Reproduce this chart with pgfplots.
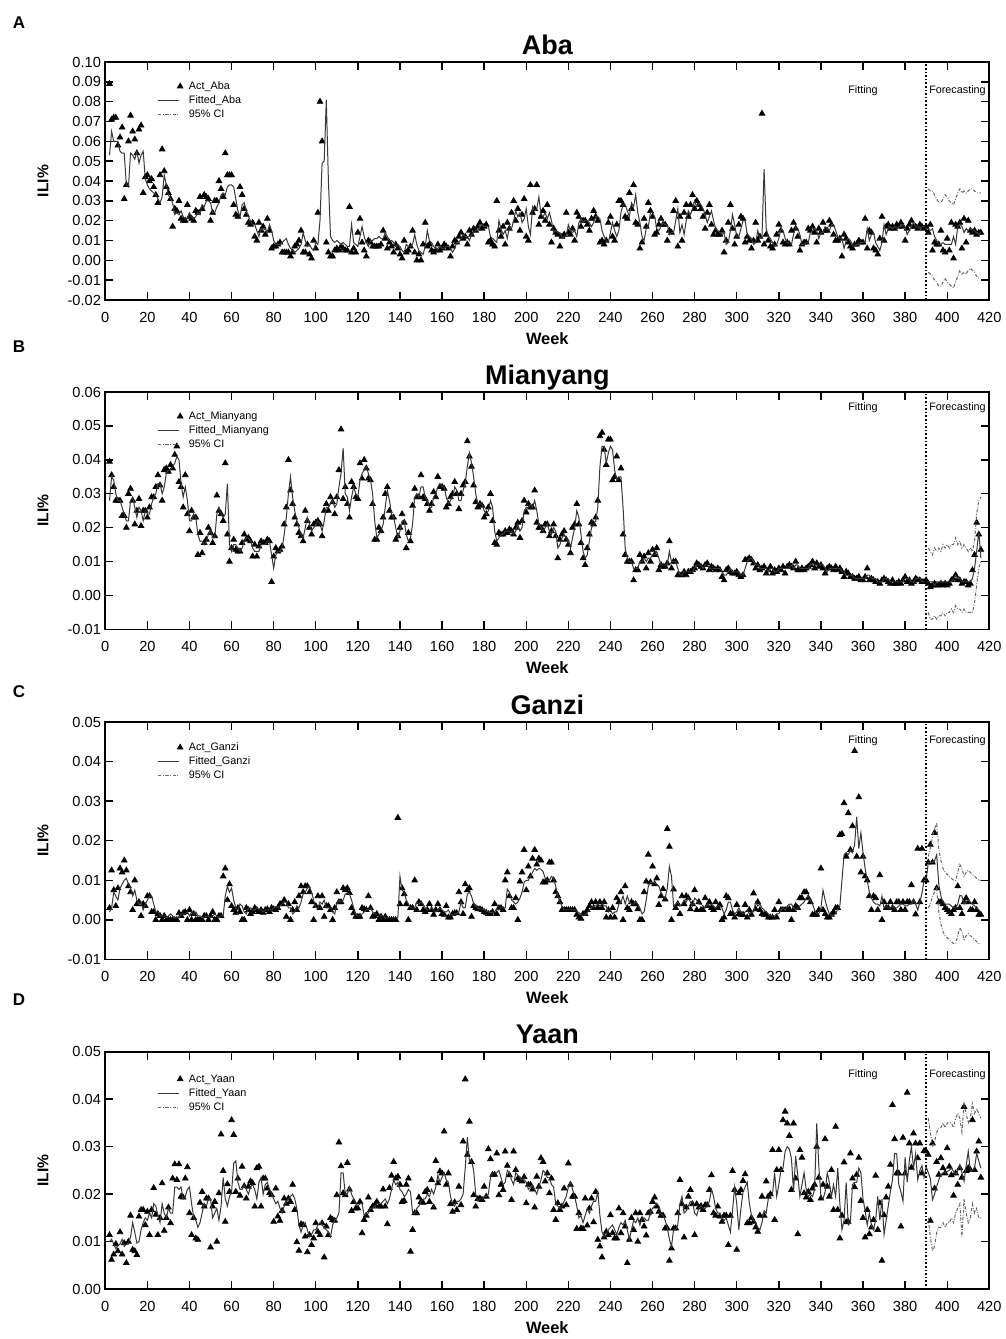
\documentclass[border=0pt]{standalone}
\usepackage{pgfplots}
\usepackage{pgfplotstable}
\pgfplotsset{compat=1.18}
\usepackage{fontspec}
\setmainfont{Liberation Sans}

\pgfplotstableread[row sep=\\, header=false]{
nan nan\\0.089 0.053\\0.071 0.065\\0.072 0.060\\0.072 0.060\\0.058 0.060\\0.062 0.055\\0.067 0.054\\0.031 0.054\\0.038 0.038\\
0.060 0.037\\0.073 0.054\\0.065 0.053\\0.061 0.051\\0.054 0.055\\0.066 0.049\\0.068 0.053\\0.034 0.055\\0.042 0.041\\0.043 0.038\\
0.040 0.036\\0.041 0.035\\0.037 0.034\\0.033 0.033\\0.029 0.031\\0.043 0.029\\0.056 0.032\\0.045 0.043\\0.037 0.038\\0.034 0.033\\
0.031 0.031\\0.017 0.029\\0.026 0.023\\0.025 0.024\\0.030 0.023\\0.021 0.025\\0.020 0.022\\0.020 0.021\\0.028 0.021\\0.022 0.024\\
0.021 0.022\\0.020 0.021\\0.025 0.022\\0.024 0.024\\0.032 0.023\\0.026 0.028\\0.033 0.027\\0.032 0.030\\0.031 0.030\\0.020 0.029\\
0.024 0.024\\0.030 0.024\\0.030 0.027\\0.040 0.029\\0.036 0.033\\0.032 0.034\\0.054 0.033\\0.043 0.037\\0.043 0.038\\0.043 0.038\\
0.028 0.037\\0.023 0.031\\0.022 0.025\\0.037 0.022\\0.033 0.028\\0.026 0.029\\0.023 0.025\\0.019 0.022\\0.018 0.020\\0.019 0.018\\
0.012 0.018\\0.010 0.015\\0.019 0.012\\0.015 0.016\\0.017 0.015\\0.013 0.016\\0.021 0.014\\0.015 0.018\\0.006 0.015\\0.007 0.010\\
0.007 0.008\\0.008 0.008\\0.009 0.008\\0.004 0.009\\0.004 0.010\\0.004 0.011\\0.004 0.008\\0.002 0.006\\0.004 0.005\\0.007 0.004\\
0.008 0.005\\0.010 0.006\\0.015 0.008\\0.004 0.014\\0.004 0.010\\0.008 0.007\\0.003 0.008\\0.001 0.006\\0.010 0.005\\0.006 0.009\\
0.024 0.008\\0.080 0.020\\0.060 0.049\\nan 0.050\\0.009 0.081\\0.004 0.040\\0.002 0.012\\0.002 0.010\\0.005 0.009\\0.006 0.010\\
0.005 0.009\\0.007 0.008\\0.006 0.009\\0.005 0.008\\0.005 0.007\\0.027 0.007\\0.004 0.018\\0.006 0.009\\0.004 0.008\\0.014 0.007\\
0.021 0.012\\0.009 0.017\\0.005 0.012\\0.002 0.009\\0.010 0.007\\0.009 0.010\\0.007 0.010\\0.007 0.011\\0.007 0.011\\0.007 0.012\\
0.008 0.011\\0.015 0.011\\0.011 0.014\\0.006 0.012\\0.009 0.010\\0.007 0.010\\0.004 0.009\\0.008 0.007\\0.006 0.008\\0.003 0.007\\
0.001 0.005\\0.010 0.004\\0.004 0.008\\0.005 0.007\\0.007 0.007\\0.015 0.008\\0.004 0.013\\0.000 0.008\\0.003 0.005\\0.000 0.004\\
0.008 0.003\\0.019 0.007\\0.007 0.015\\0.008 0.010\\0.005 0.009\\0.004 0.007\\0.005 0.006\\0.008 0.006\\0.005 0.007\\0.006 0.006\\
0.008 0.006\\0.007 0.007\\0.006 0.007\\0.002 0.006\\0.007 0.004\\0.010 0.006\\0.009 0.009\\0.012 0.009\\0.014 0.011\\0.011 0.013\\
0.012 0.012\\0.008 0.012\\0.015 0.010\\0.013 0.013\\0.016 0.014\\0.015 0.015\\0.017 0.015\\0.019 0.017\\0.016 0.018\\0.017 0.017\\
0.018 0.017\\0.009 0.017\\0.010 0.012\\0.008 0.011\\0.007 0.010\\0.030 0.009\\0.015 0.020\\0.012 0.016\\0.017 0.013\\0.008 0.015\\
0.019 0.011\\0.016 0.017\\0.024 0.016\\0.030 0.020\\0.020 0.025\\0.026 0.022\\0.015 0.024\\0.023 0.019\\0.031 0.021\\0.012 0.026\\
0.010 0.017\\0.038 0.013\\0.024 0.027\\0.026 0.025\\0.038 0.026\\0.018 0.032\\0.022 0.023\\0.025 0.022\\0.020 0.024\\0.028 0.021\\
0.018 0.024\\0.009 0.020\\0.016 0.014\\0.014 0.015\\0.013 0.014\\0.007 0.014\\0.012 0.011\\0.013 0.012\\0.024 0.012\\0.014 0.018\\
0.013 0.015\\0.016 0.014\\0.010 0.015\\0.024 0.012\\0.022 0.019\\0.017 0.021\\0.020 0.019\\0.020 0.020\\0.018 0.020\\0.015 0.019\\
0.021 0.017\\0.025 0.019\\0.022 0.022\\0.020 0.022\\0.009 0.021\\0.010 0.015\\0.008 0.012\\0.010 0.010\\0.019 0.009\\0.022 0.014\\
0.012 0.019\\0.010 0.015\\0.018 0.012\\0.030 0.015\\0.030 0.024\\0.028 0.028\\0.022 0.028\\0.021 0.025\\0.034 0.022\\0.026 0.029\\
0.038 0.027\\0.019 0.033\\0.018 0.024\\0.006 0.019\\0.009 0.012\\0.021 0.010\\0.017 0.016\\0.029 0.017\\0.025 0.024\\0.022 0.024\\
0.013 0.022\\0.014 0.016\\0.018 0.015\\0.021 0.017\\0.018 0.019\\0.018 0.018\\0.010 0.018\\0.015 0.013\\0.014 0.014\\0.025 0.014\\
0.030 0.020\\0.007 0.026\\0.022 0.014\\0.010 0.018\\0.024 0.013\\0.028 0.020\\0.022 0.025\\0.028 0.023\\0.033 0.026\\0.026 0.030\\
0.030 0.027\\0.028 0.029\\0.026 0.028\\0.022 0.026\\0.016 0.023\\0.024 0.019\\0.028 0.022\\0.018 0.025\\0.013 0.020\\0.015 0.016\\
0.013 0.015\\0.013 0.014\\0.015 0.013\\0.004 0.014\\0.010 0.008\\0.019 0.009\\0.028 0.015\\0.016 0.023\\0.008 0.018\\0.012 0.012\\
0.018 0.012\\0.022 0.016\\0.021 0.020\\0.009 0.020\\0.012 0.013\\0.010 0.012\\0.006 0.011\\0.010 0.008\\0.019 0.009\\0.010 0.015\\
0.012 0.011\\0.074 0.012\\0.008 0.046\\0.013 0.016\\0.010 0.012\\0.007 0.011\\0.006 0.009\\0.008 0.007\\0.013 0.008\\0.018 0.011\\
0.015 0.016\\0.009 0.015\\0.008 0.011\\0.009 0.009\\0.008 0.009\\0.015 0.008\\0.019 0.013\\0.016 0.017\\0.012 0.016\\0.005 0.013\\
0.008 0.008\\0.009 0.008\\0.009 0.009\\0.016 0.009\\0.015 0.014\\0.017 0.015\\0.014 0.016\\0.009 0.015\\0.016 0.011\\0.014 0.014\\
0.019 0.014\\0.015 0.017\\0.015 0.016\\0.020 0.015\\0.018 0.018\\0.013 0.018\\0.010 0.015\\0.010 0.012\\0.011 0.011\\0.002 0.011\\
0.013 0.006\\0.011 0.010\\0.009 0.011\\0.007 0.010\\0.006 0.008\\0.008 0.007\\0.008 0.008\\0.010 0.008\\0.009 0.009\\0.009 0.009\\
0.021 0.009\\0.006 0.016\\0.015 0.010\\0.014 0.013\\0.006 0.014\\0.005 0.009\\0.003 0.007\\0.011 0.005\\0.022 0.009\\0.010 0.018\\
0.017 0.013\\0.018 0.016\\0.016 0.017\\0.017 0.016\\0.016 0.017\\0.018 0.016\\0.017 0.017\\0.019 0.017\\0.017 0.018\\0.010 0.017\\
0.016 0.013\\0.018 0.015\\0.020 0.017\\0.017 0.019\\0.017 0.017\\0.016 0.017\\0.018 0.016\\0.017 0.017\\0.016 0.017\\0.017 0.016\\
0.014 0.016\\0.018 0.015\\0.005 0.016\\0.009 0.012\\0.008 0.010\\0.008 0.008\\0.015 0.008\\0.005 0.009\\0.004 0.008\\0.011 0.008\\
0.005 0.008\\0.019 0.008\\0.001 0.012\\0.018 0.008\\0.017 0.017\\0.019 0.018\\0.006 0.017\\0.021 0.014\\0.009 0.016\\0.020 0.015\\
0.015 0.016\\0.014 0.015\\0.015 0.015\\0.013 0.014\\0.014 0.013\\0.014 0.014\\
}\dataA

\pgfplotstableread[row sep=\\, header=false]{
nan nan\\0.0395 0.028\\0.0355 0.035\\0.032 0.034\\0.028 0.030\\0.028 0.028\\0.028 0.028\\0.0235 0.026\\0.0235 0.024\\0.020 0.022\\
0.030 0.022\\0.0315 0.028\\0.028 0.029\\0.021 0.026\\0.025 0.023\\0.0285 0.026\\0.0205 0.025\\0.025 0.022\\0.025 0.025\\0.023 0.024\\
0.026 0.024\\0.029 0.027\\0.029 0.029\\0.032 0.030\\0.0355 0.033\\0.0325 0.033\\0.028 0.030\\0.037 0.032\\0.0375 0.036\\0.0365 0.037\\
0.0385 0.037\\0.0375 0.038\\0.0415 0.039\\0.044 0.041\\0.0335 0.040\\0.032 0.033\\0.026 0.029\\0.0355 0.032\\0.024 0.028\\0.019 0.022\\
0.025 0.022\\0.023 0.024\\0.023 0.023\\0.012 0.018\\0.0185 0.016\\0.0125 0.016\\0.0155 0.015\\0.0165 0.016\\0.020 0.018\\0.0185 0.019\\
0.0155 0.017\\0.0175 0.017\\0.0295 0.024\\0.025 0.026\\0.024 0.024\\0.022 0.023\\0.039 0.024\\0.018 0.033\\0.010 0.015\\0.014 0.013\\
0.0165 0.015\\0.0135 0.015\\0.013 0.014\\0.013 0.013\\0.0155 0.014\\0.018 0.016\\0.0165 0.017\\0.017 0.017\\0.016 0.016\\0.0115 0.014\\
0.015 0.013\\0.0115 0.013\\0.0145 0.013\\0.016 0.015\\0.0155 0.015\\0.0155 0.015\\0.0165 0.016\\0.016 0.016\\0.004 0.012\\0.0115 0.008\\
0.014 0.012\\0.013 0.013\\0.0135 0.013\\0.0145 0.014\\0.021 0.018\\0.026 0.023\\0.040 0.030\\0.031 0.035\\0.027 0.029\\0.023 0.025\\
0.021 0.022\\0.0185 0.020\\0.0175 0.018\\0.016 0.017\\0.025 0.020\\0.022 0.023\\0.020 0.021\\0.018 0.019\\0.021 0.020\\0.0215 0.021\\
0.022 0.022\\0.021 0.021\\0.0175 0.019\\0.025 0.022\\0.027 0.026\\0.025 0.026\\0.029 0.027\\0.0275 0.028\\0.024 0.026\\0.029 0.027\\
0.037 0.032\\0.049 0.036\\0.0285 0.0435\\0.032 0.030\\0.027 0.029\\0.023 0.025\\0.0335 0.029\\0.032 0.032\\0.029 0.030\\0.0285 0.029\\
0.039 0.034\\0.0345 0.036\\0.040 0.037\\0.0375 0.038\\0.0345 0.036\\0.034 0.034\\0.027 0.030\\0.0165 0.022\\0.0165 0.017\\0.020 0.018\\
0.019 0.019\\0.023 0.021\\0.030 0.026\\0.032 0.031\\0.025 0.028\\0.023 0.024\\0.023 0.023\\0.0165 0.020\\0.0175 0.017\\0.020 0.019\\
0.024 0.022\\0.0215 0.022\\0.014 0.018\\0.0185 0.016\\0.016 0.017\\0.0265 0.021\\0.0315 0.029\\0.029 0.030\\0.029 0.029\\0.0355 0.032\\
0.029 0.032\\0.0285 0.029\\0.027 0.028\\0.025 0.026\\0.027 0.026\\0.0305 0.029\\0.029 0.030\\0.035 0.032\\0.032 0.033\\0.032 0.032\\
0.0315 0.032\\0.026 0.029\\0.027 0.027\\0.029 0.028\\0.030 0.029\\0.0335 0.032\\0.030 0.031\\0.0255 0.028\\0.030 0.028\\0.0325 0.031\\
0.0335 0.033\\0.0455 0.038\\0.041 0.042\\0.038 0.039\\0.0325 0.035\\0.0275 0.030\\0.026 0.027\\0.027 0.027\\0.0265 0.027\\0.023 0.025\\
0.024 0.024\\0.026 0.025\\0.030 0.028\\0.022 0.026\\0.0155 0.019\\0.015 0.016\\0.0185 0.017\\0.018 0.018\\0.018 0.018\\0.019 0.019\\
0.0185 0.019\\0.0195 0.019\\0.019 0.019\\0.018 0.018\\0.020 0.019\\0.0215 0.021\\0.017 0.019\\0.022 0.020\\0.028 0.025\\0.0245 0.026\\
0.027 0.026\\0.026 0.027\\0.026 0.026\\0.031 0.028\\0.0215 0.025\\0.020 0.021\\0.020 0.020\\0.019 0.019\\0.021 0.020\\0.021 0.021\\
0.0175 0.019\\0.019 0.018\\0.021 0.020\\0.0175 0.019\\0.011 0.014\\0.0165 0.015\\0.018 0.017\\0.019 0.018\\0.0165 0.017\\0.015 0.016\\
0.0125 0.014\\0.020 0.017\\0.021 0.020\\0.027 0.025\\0.021 0.023\\0.0155 0.018\\0.011 0.013\\0.009 0.011\\0.014 0.012\\0.018 0.016\\
0.0215 0.020\\0.021 0.021\\0.023 0.022\\0.028 0.026\\0.047 0.038\\0.048 0.044\\0.043 0.044\\0.0385 0.039\\0.046 0.042\\0.046 0.044\\
0.034 0.043\\0.035 0.037\\0.041 0.034\\0.034 0.035\\0.0375 0.035\\0.018 0.026\\0.012 0.014\\0.010 0.011\\0.010 0.010\\0.010 0.010\\
0.0045 0.008\\0.0075 0.008\\0.0075 0.008\\0.012 0.010\\0.010 0.010\\0.0115 0.011\\0.008 0.010\\0.0125 0.011\\0.010 0.011\\0.0135 0.012\\
0.012 0.012\\0.014 0.013\\0.0075 0.011\\0.009 0.009\\0.0085 0.009\\0.0085 0.009\\0.0095 0.009\\0.016 0.013\\0.008 0.010\\0.010 0.010\\
0.010 0.010\\0.006 0.008\\0.006 0.006\\0.006 0.006\\0.007 0.007\\0.006 0.007\\0.007 0.007\\0.007 0.007\\0.0075 0.007\\0.008 0.008\\
0.0095 0.009\\0.009 0.009\\0.0085 0.009\\0.008 0.008\\0.009 0.009\\0.0095 0.009\\0.0075 0.008\\0.0085 0.008\\0.008 0.008\\0.0075 0.008\\
0.008 0.008\\0.0075 0.008\\0.0055 0.007\\0.0045 0.006\\0.0075 0.006\\0.008 0.007\\0.007 0.008\\0.0065 0.007\\0.0065 0.007\\0.007 0.007\\
0.006 0.007\\0.0055 0.006\\0.006 0.006\\0.0105 0.008\\0.0105 0.010\\0.011 0.011\\0.0105 0.011\\0.0095 0.010\\0.008 0.009\\0.009 0.009\\
0.0075 0.008\\0.008 0.008\\0.0085 0.008\\0.0065 0.008\\0.0075 0.007\\0.0085 0.008\\0.0065 0.008\\0.0075 0.007\\0.007 0.007\\0.008 0.008\\
0.0075 0.008\\0.0085 0.008\\0.0065 0.008\\0.0085 0.008\\0.009 0.008\\0.0085 0.009\\0.008 0.008\\0.010 0.009\\0.0075 0.009\\0.0075 0.008\\
0.008 0.008\\0.0075 0.008\\0.008 0.008\\0.0085 0.008\\0.009 0.009\\0.010 0.009\\0.008 0.009\\0.0095 0.009\\0.0085 0.009\\0.009 0.009\\
0.008 0.009\\0.0065 0.008\\0.008 0.007\\0.0085 0.008\\0.008 0.008\\0.0075 0.008\\0.0085 0.008\\0.0075 0.008\\0.008 0.008\\0.007 0.007\\
0.0055 0.007\\0.007 0.006\\0.0065 0.006\\0.0055 0.006\\0.0055 0.006\\0.005 0.005\\0.005 0.005\\0.0055 0.005\\0.0045 0.005\\0.0045 0.005\\
0.0055 0.005\\0.008 0.006\\0.0045 0.006\\0.005 0.005\\0.0045 0.005\\0.004 0.005\\0.004 0.004\\0.0035 0.004\\0.0045 0.004\\0.005 0.005\\
0.0045 0.005\\0.004 0.005\\0.0035 0.004\\0.0045 0.004\\0.0035 0.004\\0.0035 0.004\\0.004 0.004\\0.0035 0.004\\0.0045 0.004\\0.0055 0.005\\
0.004 0.005\\0.0045 0.005\\0.0035 0.004\\0.004 0.004\\0.005 0.005\\0.0045 0.005\\0.0045 0.005\\0.004 0.004\\0.004 0.004\\0.0045 0.004\\
0.0035 0.004\\0.0025 0.004\\0.003 0.004\\0.0035 0.003\\0.003 0.004\\0.003 0.004\\0.0035 0.004\\0.003 0.004\\0.0035 0.004\\0.003 0.004\\
0.0035 0.004\\0.0045 0.004\\0.005 0.005\\0.006 0.006\\0.0045 0.005\\0.0045 0.005\\0.0035 0.004\\0.004 0.004\\0.004 0.004\\0.003 0.004\\
0.0035 0.004\\0.0075 0.005\\0.012 0.008\\0.0215 0.013\\0.018 0.019\\0.0135 0.011\\
}\dataB

\pgfplotstableread[row sep=\\, header=false]{
nan nan\\0.003 0.002\\0.0125 0.003\\0.0075 0.007\\0.0035 0.006\\0.008 0.005\\0.013 0.008\\0.012 0.009\\0.015 0.010\\0.0125 0.0105\\
0.0085 0.009\\0.007 0.008\\0.0025 0.006\\0.010 0.0075\\0.004 0.005\\0.0045 0.004\\0.001 0.0045\\0.004 0.0025\\0.0035 0.004\\0.006 0.005\\
0.006 0.006\\0.002 0.006\\0.002 0.004\\0.000 0.002\\0.0015 0.002\\0.001 0.001\\0.000 0.001\\0.001 0.001\\0.000 0.0005\\0.000 0.001\\
0.000 0.0015\\0.000 0.001\\0.000 0.0005\\0.000 0.0005\\0.0017 0.0005\\0.001 0.0015\\0.0017 0.0015\\0.002 0.0015\\0.000 0.002\\0.0025 0.001\\
0.000 0.002\\0.0015 0.0015\\0.000 0.002\\0.000 0.001\\0.000 0.001\\0.000 0.0005\\0.001 0.0005\\0.001 0.001\\0.000 0.001\\0.001 0.0005\\
0.002 0.001\\0.000 0.0015\\0.000 0.001\\0.001 0.0005\\0.001 0.001\\0.011 0.001\\0.013 0.006\\0.005 0.0085\\0.009 0.007\\0.0035 0.008\\
0.0025 0.005\\0.0018 0.003\\0.003 0.0025\\0.002 0.004\\0.000 0.0035\\0.000 0.002\\0.003 0.0015\\0.0025 0.003\\0.0015 0.003\\0.002 0.0025\\
0.003 0.0025\\0.0025 0.003\\0.002 0.0025\\0.0025 0.0025\\0.0018 0.002\\0.0025 0.0025\\0.0027 0.0025\\0.002 0.0025\\0.003 0.0025\\0.0027 0.003\\
0.0025 0.003\\0.003 0.003\\0.004 0.0035\\0.004 0.004\\0.005 0.0045\\0.0008 0.0045\\0.004 0.003\\0.000 0.003\\0.0025 0.0015\\0.0045 0.002\\
0.0025 0.0035\\0.006 0.003\\0.0085 0.0045\\0.007 0.0065\\0.0085 0.007\\0.0085 0.008\\0.007 0.0085\\0.0045 0.007\\0.000 0.005\\0.0035 0.003\\
0.006 0.003\\0.003 0.0045\\0.006 0.004\\0.0008 0.005\\0.0035 0.003\\0.0035 0.003\\0.0025 0.003\\0.000 0.002\\0.003 0.0015\\0.007 0.004\\
0.0045 0.005\\0.0045 0.0045\\0.008 0.005\\0.0075 0.0065\\0.008 0.0068\\0.0068 0.0065\\0.003 0.005\\0.0017 0.003\\0.0008 0.0015\\0.0008 0.001\\
0.0008 0.001\\0.003 0.0015\\0.0027 0.002\\0.0025 0.0025\\0.006 0.0025\\0.003 0.003\\0.0008 0.002\\0.001 0.0015\\0.0015 0.0015\\0.000 0.0015\\
0.0008 0.001\\0.000 0.001\\0.0008 0.0005\\0.000 0.0005\\0.000 0.0005\\0.000 0.0005\\0.000 0.0005\\0.000 0.0005\\0.0258 0.0005\\0.004 0.011\\
0.008 0.0075\\0.0065 0.007\\0.004 0.005\\0.000 0.004\\0.003 0.003\\0.003 0.003\\0.010 0.003\\0.0025 0.0045\\0.0045 0.004\\0.004 0.0045\\
0.0025 0.004\\0.002 0.003\\0.0025 0.0025\\0.004 0.0025\\0.0025 0.003\\0.0013 0.0025\\0.0025 0.002\\0.004 0.0025\\0.0025 0.003\\0.0015 0.0025\\
0.0013 0.002\\0.0035 0.002\\0.0006 0.0025\\0.0006 0.0015\\0.0015 0.001\\0.0017 0.0015\\0.0017 0.0015\\0.007 0.002\\0.0045 0.0045\\0.0015 0.003\\
0.009 0.003\\0.0075 0.0065\\0.008 0.007\\0.0008 0.006\\0.0035 0.004\\0.003 0.0035\\0.0027 0.003\\0.0027 0.0028\\0.0025 0.0027\\0.002 0.0025\\
0.0018 0.0022\\0.0015 0.002\\0.0015 0.0018\\0.002 0.0018\\0.004 0.002\\0.0015 0.0028\\0.003 0.0025\\0.003 0.003\\0.0025 0.003\\0.010 0.003\\
0.012 0.0078\\0.006 0.007\\0.003 0.005\\0.003 0.0045\\0.0055 0.004\\0.000 0.0045\\0.0097 0.0055\\0.012 0.007\\0.0177 0.0095\\0.0075 0.010\\
0.0135 0.010\\0.011 0.011\\0.0155 0.012\\0.0177 0.013\\0.014 0.0125\\0.0155 0.013\\0.015 0.0128\\0.0095 0.0122\\0.0095 0.0105\\0.010 0.010\\
0.0145 0.010\\0.0145 0.011\\0.010 0.0105\\0.007 0.0085\\0.006 0.006\\0.0045 0.0045\\0.0025 0.0035\\0.0025 0.0025\\0.0025 0.0025\\0.0025 0.0025\\
0.0025 0.0025\\0.0025 0.0025\\0.0025 0.0025\\0.0013 0.0022\\0.0006 0.0018\\0.0003 0.0015\\0.0015 0.001\\0.0015 0.0012\\0.0025 0.0018\\0.0035 0.0025\\
0.0045 0.003\\0.003 0.0035\\0.0045 0.0035\\0.003 0.004\\0.0045 0.0035\\0.003 0.004\\0.0045 0.0035\\0.0006 0.0035\\0.0025 0.002\\0.0006 0.0025\\
0.003 0.0015\\0.0006 0.002\\0.0055 0.002\\0.0045 0.004\\0.007 0.0045\\0.000 0.006\\0.0085 0.004\\0.003 0.006\\0.0025 0.0045\\0.0045 0.004\\
0.004 0.004\\0.004 0.0045\\0.0027 0.004\\0.000 0.003\\0.000 0.0015\\0.007 0.002\\0.0097 0.005\\0.0165 0.0085\\0.0095 0.0095\\0.0135 0.0095\\
0.009 0.0095\\0.0105 0.009\\0.0038 0.0085\\0.006 0.007\\0.0078 0.006\\0.0052 0.0055\\0.023 0.008\\0.0185 0.0135\\0.000 0.011\\0.0077 0.0035\\
0.003 0.004\\0.004 0.0045\\0.0015 0.0035\\0.006 0.004\\0.004 0.005\\0.006 0.0045\\0.0055 0.0055\\0.0027 0.0045\\0.004 0.0035\\0.0075 0.0055\\
0.0025 0.005\\0.0045 0.004\\0.0025 0.004\\0.0025 0.0035\\0.0055 0.003\\0.0035 0.004\\0.0045 0.0035\\0.003 0.004\\0.0025 0.0035\\0.0045 0.003\\
0.003 0.0035\\0.0038 0.0035\\0.000 0.003\\0.0006 0.0015\\0.006 0.0025\\0.0055 0.0045\\0.0015 0.0045\\0.0015 0.0025\\0.0006 0.0015\\0.0038 0.002\\
0.0015 0.003\\0.0013 0.002\\0.0013 0.0015\\0.0038 0.002\\0.0006 0.0025\\0.0025 0.0015\\0.0013 0.002\\0.0067 0.002\\0.0027 0.0045\\0.0045 0.0035\\
0.0025 0.004\\0.0015 0.003\\0.0013 0.0025\\0.0013 0.002\\0.0006 0.0015\\0.0006 0.001\\0.0006 0.001\\0.0025 0.001\\0.0006 0.0015\\0.0045 0.0015\\
0.0025 0.0025\\0.0025 0.003\\0.0025 0.0025\\0.0025 0.0035\\0.0027 0.004\\0.000 0.004\\0.0025 0.003\\0.0035 0.0025\\0.003 0.003\\0.0055 0.0035\\
0.0055 0.004\\0.007 0.0045\\0.007 0.0055\\0.0055 0.006\\0.0045 0.005\\0.0013 0.004\\0.0013 0.0025\\0.0013 0.0015\\0.0025 0.0015\\0.013 0.003\\
0.0025 0.0075\\0.0015 0.005\\0.0006 0.003\\0.0006 0.0015\\0.0013 0.001\\0.002 0.0012\\0.003 0.0015\\0.003 0.0028\\0.0215 0.0035\\0.0217 0.010\\
0.0295 0.0165\\0.016 0.017\\0.027 0.0165\\0.0177 0.0175\\0.0237 0.017\\0.0427 0.019\\0.016 0.026\\0.031 0.018\\0.012 0.022\\0.016 0.017\\
0.011 0.013\\0.010 0.010\\0.006 0.007\\0.0025 0.0055\\0.006 0.0045\\0.0055 0.004\\0.0025 0.004\\0.0113 0.0035\\0.000 0.006\\0.0045 0.003\\
0.003 0.0035\\0.003 0.003\\0.0045 0.003\\0.003 0.0035\\0.0025 0.003\\0.0045 0.003\\0.0045 0.0035\\0.0025 0.004\\0.0045 0.004\\0.0025 0.0035\\
0.0045 0.0035\\0.0045 0.004\\0.0088 0.004\\0.0045 0.005\\0.0014 0.004\\0.018 0.0025\\0.0045 0.0045\\0.018 0.0067\\0.010 0.010\\0.010 0.010\\
0.0145 0.0145\\0.019 0.0145\\0.0145 0.0145\\0.022 0.015\\0.008 0.0164\\0.0045 0.009\\0.0045 0.006\\0.004 0.0045\\0.003 0.004\\0.0025 0.004\\
0.002 0.004\\0.0015 0.0035\\0.0025 0.003\\0.003 0.003\\0.0085 0.004\\0.003 0.0062\\0.0015 0.006\\0.0045 0.004\\0.0055 0.0045\\0.0045 0.005\\
0.0025 0.0045\\0.0025 0.004\\0.0045 0.0035\\0.0025 0.003\\0.0013 0.0025\\0.0013 0.002\\
}\dataC

\pgfplotstableread[row sep=\\, header=false]{
nan nan\\0.0114 0.010\\0.0062 0.0105\\0.0073 0.0095\\0.0095 0.0085\\0.008 0.0092\\0.012 0.0095\\0.0073 0.0105\\0.0097 0.009\\0.0055 0.0095\\
0.010 0.0095\\0.0155 0.011\\0.0083 0.014\\0.008 0.012\\0.0072 0.0097\\0.0153 0.010\\0.0167 0.0125\\0.0167 0.014\\0.0135 0.015\\0.0163 0.0145\\
0.0114 0.016\\0.0167 0.015\\0.0213 0.018\\0.0157 0.0175\\0.0114 0.0155\\0.015 0.014\\0.0223 0.018\\0.0123 0.016\\0.015 0.015\\0.0172 0.017\\
0.0139 0.016\\0.0233 0.016\\0.0263 0.0215\\0.023 0.0215\\0.0263 0.021\\0.0195 0.0215\\0.0193 0.019\\0.0233 0.0195\\0.0257 0.021\\0.016 0.0215\\
0.0114 0.018\\0.015 0.015\\0.0107 0.0145\\0.0104 0.013\\0.0182 0.014\\0.0205 0.016\\0.0174 0.018\\0.0191 0.0175\\0.0191 0.019\\0.0088 0.019\\
0.0174 0.015\\0.0184 0.016\\0.010 0.017\\0.0202 0.0145\\0.0326 0.0175\\0.0249 0.0235\\0.0142 0.019\\0.0221 0.0175\\0.0205 0.0195\\0.0356 0.0205\\
0.0325 0.0265\\0.0205 0.027\\0.0233 0.0225\\0.0197 0.021\\0.0258 0.021\\0.0217 0.022\\0.0191 0.021\\0.0216 0.020\\0.0227 0.0215\\0.0223 0.022\\
0.0174 0.021\\0.0255 0.019\\0.0258 0.0225\\0.0174 0.0235\\0.0233 0.020\\0.0233 0.022\\0.0212 0.0225\\0.0202 0.021\\0.0198 0.020\\0.0142 0.019\\
0.0212 0.018\\0.0153 0.0185\\0.0144 0.017\\0.0165 0.016\\0.0191 0.0175\\0.018 0.0185\\0.0191 0.019\\0.0184 0.0195\\0.022 0.020\\0.0167 0.019\\
0.0099 0.017\\0.0081 0.0135\\0.0137 0.012\\0.0135 0.0135\\0.0111 0.014\\0.0078 0.0125\\0.0114 0.011\\0.0093 0.0115\\0.0107 0.0125\\0.0139 0.0125\\
0.0121 0.0135\\0.0114 0.014\\0.0139 0.0135\\0.0067 0.013\\0.0132 0.0125\\0.0114 0.012\\0.015 0.011\\0.0146 0.0135\\0.0144 0.0145\\0.0198 0.015\\
0.0309 0.016\\0.0259 0.0245\\0.0202 0.0245\\0.0198 0.020\\0.0266 0.020\\0.021 0.0215\\0.0165 0.020\\0.0184 0.019\\0.017 0.018\\0.017 0.0175\\
0.0184 0.018\\0.0118 0.018\\0.0146 0.0155\\0.0155 0.016\\0.0193 0.016\\0.0167 0.017\\0.0174 0.017\\0.0177 0.0175\\0.0184 0.018\\0.0174 0.018\\
0.0174 0.018\\0.021 0.0185\\0.0174 0.019\\0.0137 0.018\\0.0213 0.019\\0.0239 0.021\\0.0268 0.023\\0.0233 0.022\\0.0237 0.0225\\0.022 0.021\\
0.0184 0.0205\\0.0186 0.0195\\0.022 0.020\\0.0233 0.021\\0.0079 0.0205\\0.0125 0.016\\0.016 0.016\\0.016 0.017\\0.0193 0.0175\\0.0184 0.0185\\
0.0182 0.019\\0.0205 0.019\\0.0209 0.020\\0.0184 0.0195\\0.023 0.021\\0.0172 0.020\\0.027 0.0215\\0.0223 0.024\\0.0248 0.0225\\0.0244 0.0235\\
0.0332 0.0245\\0.022 0.023\\0.0244 0.0225\\0.0179 0.0195\\0.0163 0.018\\0.0183 0.0175\\0.0167 0.0185\\0.0216 0.0185\\0.0177 0.019\\0.0311 0.020\\
0.0442 0.0255\\0.0283 0.032\\0.0353 0.027\\0.0268 0.027\\0.0198 0.025\\0.0174 0.020\\0.019 0.0185\\0.0191 0.019\\0.0188 0.019\\0.0216 0.0195\\
0.0195 0.0195\\0.0295 0.020\\0.0274 0.0235\\0.0241 0.0245\\0.0241 0.0245\\0.0286 0.0245\\0.0198 0.025\\0.022 0.0235\\0.0209 0.022\\0.029 0.0225\\
0.026 0.025\\0.024 0.0245\\0.0188 0.023\\0.029 0.022\\0.0251 0.0245\\0.0233 0.024\\0.023 0.0235\\0.0227 0.023\\0.0236 0.023\\0.0181 0.0225\\
0.022 0.021\\0.022 0.0215\\0.021 0.022\\0.0172 0.021\\0.0237 0.020\\0.0216 0.0215\\0.0276 0.023\\0.0268 0.025\\0.0227 0.0245\\0.0244 0.0235\\
0.0202 0.0235\\0.0233 0.022\\0.0167 0.0215\\0.0146 0.018\\0.0181 0.0175\\0.0167 0.017\\0.0174 0.0175\\0.0212 0.0185\\0.0177 0.0195\\0.0265 0.0215\\
0.022 0.0225\\0.0195 0.021\\0.0195 0.0195\\0.0127 0.0175\\0.016 0.015\\0.0128 0.0155\\0.0127 0.014\\0.0191 0.0155\\0.0134 0.017\\0.017 0.016\\
0.0191 0.0175\\0.0141 0.0185\\0.0205 0.0185\\0.0104 0.0205\\0.009 0.0155\\0.0067 0.012\\0.0109 0.011\\0.0121 0.0115\\0.0114 0.0125\\0.0156 0.013\\
0.0118 0.0135\\0.0107 0.0125\\0.0107 0.0115\\0.017 0.013\\0.0118 0.014\\0.016 0.0135\\0.0132 0.0145\\0.0055 0.0125\\0.0104 0.0105\\0.015 0.0125\\
0.0125 0.0145\\0.016 0.014\\0.010 0.015\\0.016 0.0135\\0.0146 0.015\\0.0132 0.015\\0.0113 0.0145\\0.016 0.0145\\0.0163 0.016\\0.0184 0.017\\
0.0193 0.0175\\0.0174 0.018\\0.0163 0.0175\\0.0155 0.016\\0.0155 0.0155\\0.0128 0.0145\\0.0128 0.013\\0.006 0.0105\\0.0086 0.009\\0.0128 0.0125\\
0.0128 0.0125\\0.016 0.0135\\0.023 0.018\\0.0179 0.0195\\0.0109 0.016\\0.0172 0.0165\\0.0195 0.0175\\0.0209 0.0185\\0.0179 0.0185\\0.0114 0.016\\
0.0179 0.0155\\0.0172 0.017\\0.0175 0.0175\\0.0167 0.017\\0.0177 0.017\\0.0177 0.0175\\0.0209 0.0185\\0.024 0.021\\0.016 0.0195\\0.0155 0.017\\
0.0174 0.016\\0.0153 0.016\\0.0142 0.015\\0.0155 0.0145\\0.0155 0.015\\0.0093 0.0135\\0.0155 0.012\\0.0249 0.0165\\0.0209 0.0215\\0.0083 0.018\\
0.0202 0.0125\\0.0209 0.017\\0.0228 0.0205\\0.0242 0.0215\\0.0139 0.0225\\0.0139 0.018\\0.015 0.0155\\0.0142 0.0145\\0.013 0.014\\0.0121 0.013\\
0.0155 0.0125\\0.0195 0.014\\0.0155 0.0165\\0.0227 0.016\\0.0195 0.019\\0.020 0.0195\\0.0293 0.020\\0.0146 0.0245\\0.0251 0.0195\\0.0293 0.022\\
0.0251 0.025\\0.0356 0.0255\\0.0374 0.029\\0.0349 0.030\\0.0323 0.0295\\0.0209 0.0275\\0.0349 0.0205\\0.0233 0.028\\0.0116 0.024\\0.0293 0.0195\\
0.0277 0.022\\0.0202 0.0245\\0.0193 0.021\\0.0205 0.0195\\0.0188 0.020\\0.0212 0.0195\\0.022 0.021\\0.030 0.0349\\0.0235 0.026\\0.0191 0.0195\\
0.022 0.019\\0.0316 0.0205\\0.0216 0.0245\\0.0195 0.0225\\0.0251 0.0195\\0.0167 0.022\\0.0342 0.0195\\0.0167 0.0255\\0.0107 0.018\\0.0155 0.0125\\
0.0267 0.0145\\0.0141 0.0225\\0.0142 0.0135\\0.0286 0.014\\0.0233 0.022\\0.0215 0.0225\\0.0241 0.0225\\0.0277 0.0255\\0.0186 0.0245\\0.015 0.019\\
0.0109 0.0165\\0.0167 0.0135\\0.0116 0.016\\0.013 0.0135\\0.0146 0.0125\\0.0239 0.0145\\0.0125 0.0195\\0.0181 0.0145\\0.006 0.019\\0.0156 0.0115\\
0.0193 0.0145\\0.0216 0.0175\\0.0262 0.0205\\0.0388 0.023\\0.0316 0.0286\\0.0244 0.0285\\0.0244 0.022\\0.0132 0.0205\\0.0319 0.0185\\0.0244 0.0278\\
0.0414 0.0225\\0.0307 0.027\\0.0256 0.030\\0.0328 0.0255\\0.0307 0.0285\\0.0276 0.023\\0.0307 0.025\\0.0244 0.026\\0.0291 0.0235\\0.029 0.0258\\
0.0283 0.0245\\0.0144 0.0233\\0.0307 0.0188\\0.0212 0.020\\0.0268 0.0216\\0.0241 0.023\\0.0276 0.0241\\0.0255 0.0245\\0.0244 0.0246\\0.0297 0.0248\\
0.0258 0.025\\0.024 0.0255\\0.0197 0.0248\\0.0244 0.0241\\0.022 0.025\\0.0255 0.0262\\0.0235 0.0245\\0.0384 0.0227\\0.0249 0.026\\0.0255 0.029\\
0.0251 0.0248\\0.0356 0.025\\0.0251 0.0255\\0.029 0.0286\\0.0311 0.027\\0.0235 0.0255\\
}\dataD

% 95% CI: week upper lower
\pgfplotstableread[row sep=\\, header=false]{
391 0.036 -0.006\\392 0.035 -0.007\\393 0.035 -0.008\\394 0.033 -0.010\\395 0.031 -0.011\\396 0.029 -0.013\\397 0.029 -0.013\\398 0.031 -0.011\\399 0.033 -0.009\\400 0.032 -0.011\\
401 0.030 -0.012\\402 0.029 -0.013\\403 0.028 -0.014\\404 0.031 -0.011\\405 0.034 -0.008\\406 0.036 -0.005\\407 0.034 -0.007\\408 0.035 -0.006\\409 0.034 -0.007\\410 0.035 -0.005\\
411 0.036 -0.004\\412 0.036 -0.005\\413 0.035 -0.006\\414 0.034 -0.008\\415 0.034 -0.009\\416 0.034 -0.009\\
}\ciA
\pgfplotstableread[row sep=\\, header=false]{
391 0.014 -0.005\\392 0.013 -0.007\\393 0.012 -0.007\\394 0.014 -0.006\\395 0.013 -0.007\\396 0.014 -0.006\\397 0.013 -0.006\\398 0.015 -0.005\\399 0.014 -0.006\\400 0.015 -0.005\\
401 0.014 -0.005\\402 0.015 -0.004\\403 0.015 -0.005\\404 0.017 -0.003\\405 0.015 -0.004\\406 0.016 -0.004\\407 0.014 -0.005\\408 0.015 -0.004\\409 0.014 -0.005\\410 0.013 -0.005\\
411 0.014 -0.005\\412 0.013 -0.005\\413 0.016 -0.002\\414 0.024 0.003\\415 0.028 0.008\\416 0.029 0.010\\
}\ciB
\pgfplotstableread[row sep=\\, header=false]{
391 0.016 0.003\\392 0.018 0.004\\393 0.021 0.006\\394 0.023 0.007\\395 0.0245 0.008\\396 0.018 0.002\\397 0.015 -0.001\\398 0.013 -0.003\\399 0.012 -0.004\\400 0.0115 -0.0045\\
401 0.011 -0.005\\402 0.0105 -0.0055\\403 0.010 -0.006\\404 0.010 -0.006\\405 0.012 -0.004\\406 0.014 -0.002\\407 0.013 -0.003\\408 0.011 -0.005\\409 0.012 -0.004\\410 0.0125 -0.0035\\
411 0.012 -0.004\\412 0.0115 -0.0045\\413 0.011 -0.005\\414 0.0105 -0.0055\\415 0.010 -0.006\\416 0.010 -0.006\\
}\ciC
\pgfplotstableread[row sep=\\, header=false]{
391 0.036 0.015\\392 0.033 0.011\\393 0.030 0.008\\394 0.031 0.009\\395 0.033 0.012\\396 0.034 0.013\\397 0.034 0.013\\398 0.035 0.014\\399 0.034 0.013\\400 0.035 0.014\\
401 0.035 0.014\\402 0.035 0.015\\403 0.034 0.014\\404 0.036 0.016\\405 0.037 0.017\\406 0.036 0.018\\407 0.033 0.011\\408 0.039 0.019\\409 0.037 0.016\\410 0.035 0.014\\
411 0.036 0.015\\412 0.039 0.018\\413 0.037 0.016\\414 0.038 0.017\\415 0.037 0.015\\416 0.036 0.015\\
}\ciD

\pgfplotsset{
  actlegend/.style={legend image code/.code={\draw[##1] plot coordinates {(11pt,0pt)};}},
  linelegend/.style={legend image code/.code={\draw[##1] (0pt,0pt) -- (10.5pt,0pt);}},
  actstyle/.style={only marks, mark=triangle*, mark size=1.6pt, black, actlegend},
  fitstyle/.style={no marks, black!78, line width=0.5pt, linelegend},
  cistyle/.style={no marks, black!60, line width=0.5pt, dash pattern=on 1.6pt off 0.8pt on 0.4pt off 0.8pt, linelegend},
  ili/.style={
    scale only axis, width=442pt,
    xmin=0, xmax=420, xtick={0,20,...,420},
    tick align=inside, major tick length=4pt,
    axis line style={line width=0.9pt},
    every tick/.style={line width=0.7pt, black},
    tick label style={font=\fontsize{7.3}{8}\selectfont},
    /pgf/number format/assume math mode=true,
    scaled y ticks=false,
    yticklabel style={/pgf/number format/.cd, fixed, fixed zerofill, precision=2, /tikz/.cd, anchor=east, inner sep=0pt, xshift=-2pt},
    xticklabel style={anchor=base, yshift=-11pt},
    xlabel={Week},
    xlabel style={font=\bfseries\fontsize{8.2}{9}\selectfont, at={(axis description cs:0.5,0)}, anchor=base, yshift=-22pt},
    ylabel={ILI\%},
    ylabel style={font=\bfseries\fontsize{7.8}{9}\selectfont, at={(axis description cs:-0.0706,0.5)}, anchor=center},
    title style={font=\bfseries\fontsize{13.5}{15}\selectfont, at={(axis description cs:0.5,1)}, anchor=base, yshift=-2pt},
    legend style={draw=none, fill=none, inner sep=0pt, anchor=north west, column sep=2pt, font=\fontsize{5.4}{6}\selectfont, nodes={inner sep=1pt, text height=4pt, text depth=1pt}},
    legend cell align=left,
    clip mode=individual,
  }
}
\newcommand{\smallfont}{\fontsize{5.4}{6}\selectfont}

\begin{document}
\begin{tikzpicture}
\path[use as bounding box] (0,0) rectangle (503pt,-669.5pt);
\node[font=\bfseries\fontsize{8.5}{9}\selectfont] at (9.5pt,-11.5pt) {A};
\node[font=\bfseries\fontsize{8.5}{9}\selectfont] at (9.5pt,-173.5pt) {B};
\node[font=\bfseries\fontsize{8.5}{9}\selectfont] at (9.5pt,-346pt) {C};
\node[font=\bfseries\fontsize{8.5}{9}\selectfont] at (9.5pt,-500pt) {D};

% ---------- A ----------
\begin{axis}[ili, at={(52.65pt,-31pt)}, anchor=north west, height=119pt,
  ymin=-0.02, ymax=0.10, ytick={-0.02,-0.01,0,0.01,0.02,0.03,0.04,0.05,0.06,0.07,0.08,0.09,0.10},
  title={Aba}, legend style={at={(0.0588,0.9286)}}]
\addplot[actstyle] table[x expr=\coordindex+1, y index=0] {\dataA};
\addlegendentry{Act\_Aba}
\addplot[fitstyle] table[x expr=\coordindex+1, y index=1] {\dataA};
\addlegendentry{Fitted\_Aba}
\addplot[cistyle] table[x index=0, y index=1] {\ciA};
\addlegendentry{95\% CI}
\addplot[cistyle, forget plot] table[x index=0, y index=2] {\ciA};
\addplot[forget plot, black, line width=0.8pt, dash pattern=on 0.8pt off 1pt] coordinates {(390,-0.02) (390,0.10)};
\node[font=\smallfont, inner sep=0pt] at (axis cs:360,0.0854) {Fitting};
\node[font=\smallfont, inner sep=0pt, anchor=west] at (axis cs:391.3,0.0854) {Forecasting};
\end{axis}

% ---------- B ----------
\begin{axis}[ili, at={(52.65pt,-196pt)}, anchor=north west, height=118.7pt,
  ymin=-0.01, ymax=0.06, ytick={-0.01,0,0.01,0.02,0.03,0.04,0.05,0.06},
  title={Mianyang}, legend style={at={(0.0588,0.9284)}}]
\addplot[actstyle] table[x expr=\coordindex+1, y index=0] {\dataB};
\addlegendentry{Act\_Mianyang}
\addplot[fitstyle] table[x expr=\coordindex+1, y index=1] {\dataB};
\addlegendentry{Fitted\_Mianyang}
\addplot[cistyle] table[x index=0, y index=1] {\ciB};
\addlegendentry{95\% CI}
\addplot[cistyle, forget plot] table[x index=0, y index=2] {\ciB};
\addplot[forget plot, black, line width=0.8pt, dash pattern=on 0.8pt off 1pt] coordinates {(390,-0.01) (390,0.06)};
\node[font=\smallfont, inner sep=0pt] at (axis cs:360,0.0553) {Fitting};
\node[font=\smallfont, inner sep=0pt, anchor=west] at (axis cs:391.3,0.0553) {Forecasting};
\end{axis}

% ---------- C ----------
\begin{axis}[ili, at={(52.65pt,-361pt)}, anchor=north west, height=118.7pt,
  ymin=-0.01, ymax=0.05, ytick={-0.01,0,0.01,0.02,0.03,0.04,0.05},
  title={Ganzi}, legend style={at={(0.0588,0.924)}}]
\addplot[actstyle] table[x expr=\coordindex+1, y index=0] {\dataC};
\addlegendentry{Act\_Ganzi}
\addplot[fitstyle] table[x expr=\coordindex+1, y index=1] {\dataC};
\addlegendentry{Fitted\_Ganzi}
\addplot[cistyle] table[x index=0, y index=1] {\ciC};
\addlegendentry{95\% CI}
\addplot[cistyle, forget plot] table[x index=0, y index=2] {\ciC};
\addplot[forget plot, black, line width=0.8pt, dash pattern=on 0.8pt off 1pt] coordinates {(390,-0.01) (390,0.05)};
\node[font=\smallfont, inner sep=0pt] at (axis cs:360,0.0452) {Fitting};
\node[font=\smallfont, inner sep=0pt, anchor=west] at (axis cs:391.3,0.0452) {Forecasting};
\end{axis}

% ---------- D ----------
\begin{axis}[ili, at={(52.65pt,-525.85pt)}, anchor=north west, height=118.7pt,
  ymin=0, ymax=0.05, ytick={0,0.01,0.02,0.03,0.04,0.05},
  title={Yaan}, legend style={at={(0.0588,0.916)}}]
\addplot[actstyle] table[x expr=\coordindex+1, y index=0] {\dataD};
\addlegendentry{Act\_Yaan}
\addplot[fitstyle] table[x expr=\coordindex+1, y index=1] {\dataD};
\addlegendentry{Fitted\_Yaan}
\addplot[cistyle] table[x index=0, y index=1] {\ciD};
\addlegendentry{95\% CI}
\addplot[cistyle, forget plot] table[x index=0, y index=2] {\ciD};
\addplot[forget plot, black, line width=0.8pt, dash pattern=on 0.8pt off 1pt] coordinates {(390,0) (390,0.05)};
\node[font=\smallfont, inner sep=0pt] at (axis cs:360,0.0452) {Fitting};
\node[font=\smallfont, inner sep=0pt, anchor=west] at (axis cs:391.3,0.0452) {Forecasting};
\end{axis}
\end{tikzpicture}
\end{document}
